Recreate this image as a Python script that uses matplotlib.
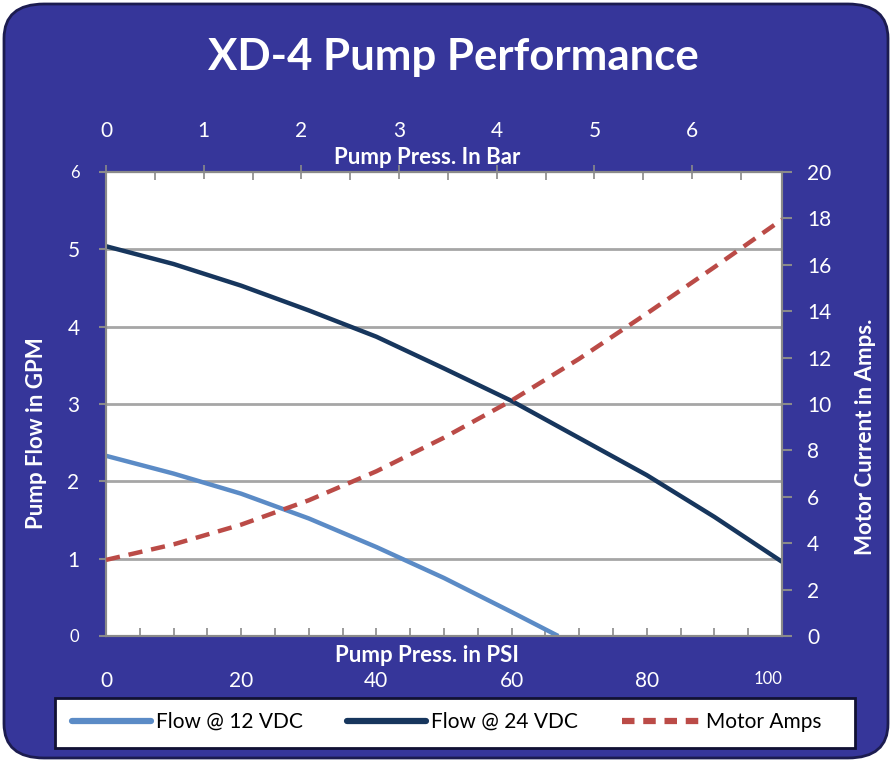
import matplotlib
matplotlib.use("Agg")
import matplotlib.pyplot as plt
import matplotlib.transforms as mtransforms
from matplotlib.patches import FancyBboxPatch, Rectangle
from matplotlib.lines import Line2D

plt.rcParams['font.family'] = ['Lato', 'DejaVu Sans']

# ---- data ----
psi_24 = [0, 10, 20, 30, 40, 50, 60, 70, 80, 90, 100]
flow_24 = [5.04, 4.81, 4.53, 4.21, 3.87, 3.46, 3.04, 2.56, 2.08, 1.54, 0.96]

psi_12 = [0, 10, 20, 30, 40, 50, 60, 66.9]
flow_12 = [2.33, 2.10, 1.84, 1.52, 1.15, 0.75, 0.31, 0.0]

psi_amps = [0, 10, 20, 30, 40, 50, 60, 70, 80, 90, 100]
amps = [3.28, 3.95, 4.8, 5.85, 7.1, 8.55, 10.15, 11.95, 13.9, 15.9, 17.95]

psi_ticks = [0, 20, 40, 60, 80, 100]
bar_ticks = [0, 1, 2, 3, 4, 5, 6]
gpm_ticks = [0, 1, 2, 3, 4, 5, 6]
amp_ticks = [0, 2, 4, 6, 8, 10, 12, 14, 16, 18, 20]
series_names = ['Flow @ 12 VDC', 'Flow @ 24 VDC', 'Motor Amps']
PSI_PER_BAR = 14.45

BG = '#36369a'
C12 = '#5b8bc6'
C24 = '#17365d'
CAMP = '#bb4b47'
SPINE = '#8a8a8a'

W, H = 892, 762
fig = plt.figure(figsize=(W / 100, H / 100), dpi=100)
fig.patch.set_facecolor('white')

bg = FancyBboxPatch((4 / W, 4 / H), (W - 8) / W, (H - 8) / H,
                    boxstyle="round,pad=0,rounding_size=0.045",
                    transform=fig.transFigure, facecolor=BG,
                    edgecolor='#1c1c50', linewidth=2, zorder=-10)
fig.add_artist(bg)

ax = fig.add_axes([106 / W, 1 - 636 / H, (782 - 106) / W, (636 - 172) / H])
ax.set_facecolor('white')
ax.set_xlim(0, 100)
ax.set_ylim(0, 6)
for y in gpm_ticks[1:-1]:
    ax.axhline(y, color='#a6a6a6', lw=2, zorder=1)

ax.plot(psi_12, flow_12, color=C12, lw=3.2, zorder=3, solid_capstyle='butt',
        solid_joinstyle='round')
ax.plot(psi_24, flow_24, color=C24, lw=3.2, zorder=3, solid_capstyle='butt',
        solid_joinstyle='round')

for s in ax.spines.values():
    s.set_color(SPINE)
    s.set_linewidth(1.5)

ax.set_yticks(gpm_ticks)
ax.set_yticklabels([str(v) for v in gpm_ticks])
ax.tick_params(axis='y', direction='out', length=5, width=1.5, color=SPINE,
               labelcolor='white', labelsize=15, pad=14)
ax.set_xticks(psi_ticks)
ax.set_xticklabels([str(v) for v in psi_ticks])
ax.set_xticks(range(0, 101, 5), minor=True)
ax.tick_params(axis='x', which='both', direction='in', length=6, width=1.2,
               color=SPINE, labelcolor='white', labelsize=15, pad=25)
for lbl in (ax.get_yticklabels()[0], ax.get_yticklabels()[-1]):
    lbl.set_fontsize(12)
last = ax.get_xticklabels()[-1]
last.set_fontsize(12)
last.set_transform(last.get_transform() +
                   mtransforms.ScaledTranslation(-14 / 100, 0, fig.dpi_scale_trans))

ax2 = ax.twinx()
ax2.set_ylim(0, 20)
ax2.patch.set_visible(False)
ax2.plot(psi_amps, amps, color=CAMP, lw=3.2, ls=(0, (3.2, 2.0)), zorder=4)
for s in ax2.spines.values():
    s.set_color(SPINE)
    s.set_linewidth(1.5)
ax2.set_yticks(amp_ticks)
ax2.set_yticklabels([str(v) for v in amp_ticks])
ax2.tick_params(axis='y', direction='out', length=7, width=1.5, color=SPINE,
                labelcolor='white', labelsize=15, pad=11)

top = ax.secondary_xaxis('top', functions=(lambda p: p / PSI_PER_BAR,
                                           lambda b: b * PSI_PER_BAR))
top.set_xticks(bar_ticks)
top.set_xticklabels([str(v) for v in bar_ticks])
top.set_xticks([b + 0.5 for b in bar_ticks], minor=True)
top.tick_params(axis='x', which='major', direction='inout', length=10, width=1.2,
                color=SPINE, labelcolor='white', labelsize=15, pad=17)
top.tick_params(axis='x', which='minor', direction='in', length=6, width=1.2,
                color=SPINE)
top.spines['top'].set_color(SPINE)

fig.text(453 / W, 1 - 57 / H, 'XD-4 Pump Performance', color='white',
         fontsize=31.5, fontweight='bold', ha='center', va='center')
fig.text(427 / W, 1 - 157 / H, 'Pump Press. In Bar', color='white',
         fontsize=16, fontweight='bold', ha='center', va='center')
fig.text(427 / W, 1 - 656 / H, 'Pump Press. in PSI', color='white',
         fontsize=16, fontweight='bold', ha='center', va='center')
fig.text(37 / W, 1 - 433 / H, 'Pump Flow in GPM', color='white',
         fontsize=16, fontweight='bold', ha='center', va='center', rotation=90)
fig.text(866 / W, 1 - 437 / H, 'Motor Current in Amps.', color='white',
         fontsize=16, fontweight='bold', ha='center', va='center', rotation=90)

# legend box
fig.add_artist(Rectangle((55 / W, 1 - 748 / H), 800 / W, 50 / H,
                         transform=fig.transFigure, facecolor='white',
                         edgecolor='#111133', linewidth=2, zorder=5))
handles = [Line2D([], [], color=C12, lw=4.5, solid_capstyle='round'),
           Line2D([], [], color=C24, lw=4.5, solid_capstyle='round'),
           Line2D([], [], color=CAMP, lw=4.5, ls=(0, (2.0, 1.4)))]
leg = fig.legend(handles, series_names,
                 ncol=3, loc='center left',
                 bbox_to_anchor=(72 / W, 1 - 722 / H),
                 borderaxespad=0, frameon=False, fontsize=15,
                 handlelength=3.8, handletextpad=0.25, columnspacing=2.1,
                 borderpad=0)
leg.set_zorder(6)

fig.savefig('out.png', dpi=100, facecolor=fig.get_facecolor())
